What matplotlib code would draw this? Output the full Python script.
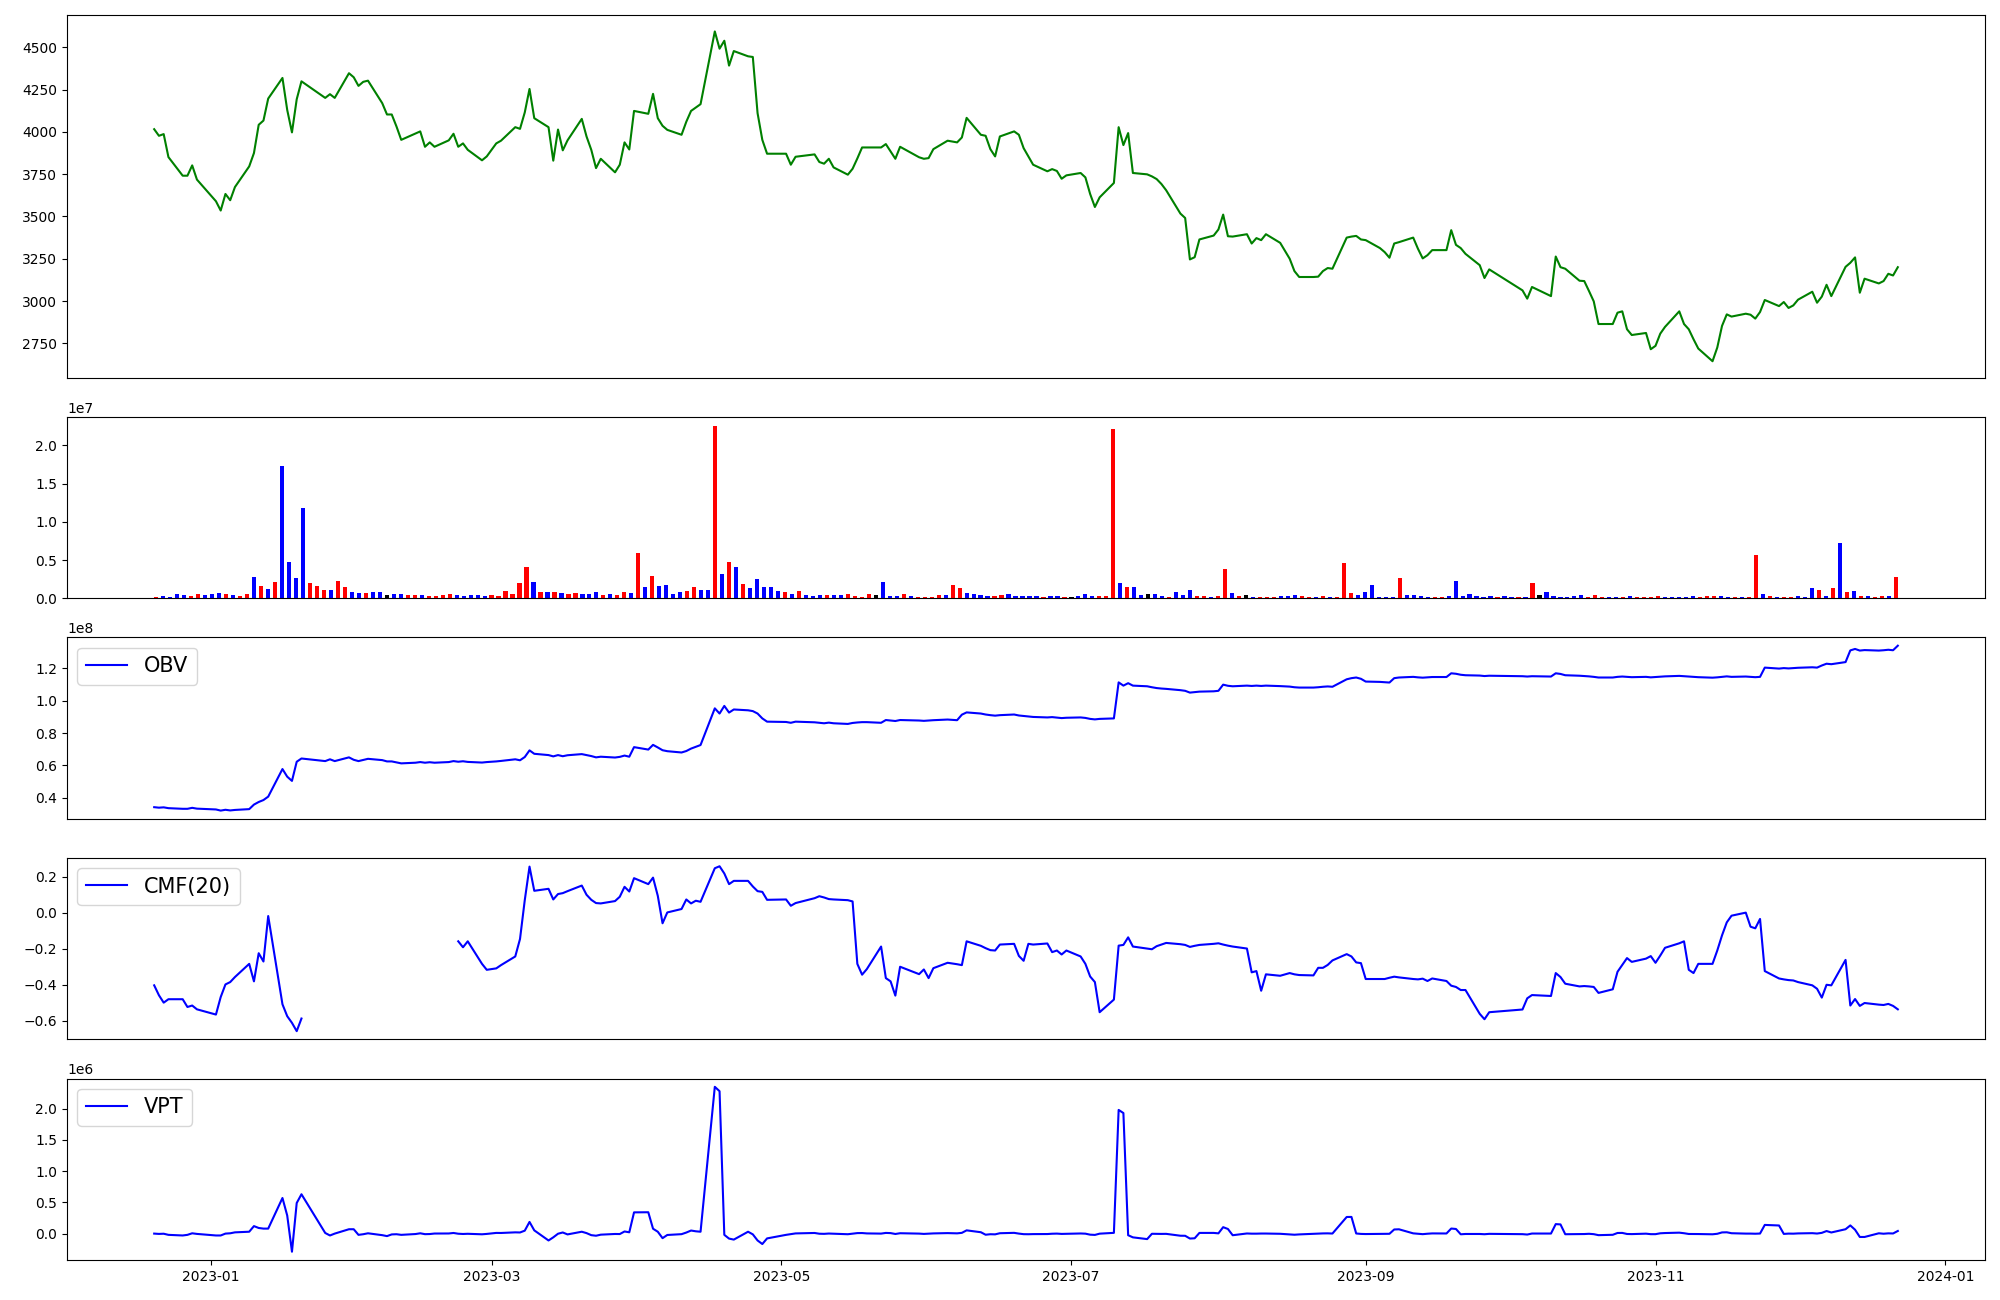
import numpy as np
import pandas as pd
import matplotlib
matplotlib.use('Agg')
import matplotlib.pyplot as plt

# KRX trading calendar, 2022-12-20 .. 2023-12-22
holidays = ['2022-12-30', '2023-01-23', '2023-01-24', '2023-03-01', '2023-05-01',
            '2023-05-05', '2023-05-29', '2023-06-06', '2023-08-15', '2023-09-28',
            '2023-09-29', '2023-10-02', '2023-10-03', '2023-10-09']
dates = pd.bdate_range('2022-12-20', '2023-12-22', freq='C', holidays=holidays)

close = [
    4016, 3977, 3987, 3851, 3741, 3741, 3802, 3718, 3590, 3535,
    3633, 3596, 3674, 3796, 3875, 4042, 4067, 4197, 4319, 4130,
    3997, 4193, 4299, 4201, 4223, 4201, 4347, 4323, 4272, 4296,
    4303, 4170, 4103, 4103, 4032, 3953, 3990, 4003, 3912, 3938,
    3912, 3950, 3989, 3912, 3932, 3894, 3832, 3855, 3932, 3948,
    4028, 4018, 4115, 4254, 4081, 4028, 3830, 4014, 3891, 3950,
    4077, 3973, 3894, 3786, 3841, 3761, 3806, 3938, 3896, 4124,
    4107, 4225, 4081, 4036, 4012, 3983, 4060, 4124, 4144, 4164,
    4594, 4492, 4539, 4392, 4478, 4447, 4443, 4111, 3953, 3871,
    3871, 3806, 3853, 3867, 3822, 3812, 3841, 3790, 3747, 3782,
    3843, 3908, 3908, 3908, 3928, 3885, 3841, 3912, 3850, 3841,
    3845, 3898, 3948, 3938, 3967, 4083, 3983, 3977, 3898, 3855,
    3973, 4003, 3983, 3904, 3855, 3806, 3767, 3780, 3769, 3723,
    3743, 3757, 3731, 3633, 3556, 3613, 3698, 4028, 3922, 3993,
    3757, 3749, 3737, 3721, 3692, 3655, 3517, 3491, 3246, 3259,
    3364, 3387, 3423, 3511, 3383, 3381, 3395, 3340, 3372, 3360,
    3395, 3344, 3250, 3177, 3142, 3142, 3144, 3177, 3195, 3191,
    3375, 3381, 3385, 3364, 3360, 3313, 3289, 3256, 3340, 3348,
    3375, 3309, 3252, 3271, 3301, 3301, 3419, 3332, 3313, 3279,
    3212, 3136, 3187, 3063, 3014, 3083, 3029, 3263, 3200, 3191,
    3120, 3118, 3059, 2998, 2864, 2864, 2931, 2939, 2833, 2799,
    2811, 2715, 2735, 2807, 2847, 2939, 2864, 2833, 2774, 2719,
    2644, 2725, 2853, 2921, 2908, 2925, 2919, 2896, 2935, 3006,
    2970, 2994, 2959, 2974, 3008, 3055, 2990, 3026, 3096, 3029,
    3202, 3226, 3258, 3049, 3132, 3104, 3118, 3161, 3151, 3200,
]

# volume in millions of shares
volume_m = [
    0.17, 0.30, 0.17, 0.56, 0.43, 0.30, 0.56, 0.43, 0.56, 0.70,
    0.56, 0.43, 0.30, 0.56, 2.78, 1.60, 1.22, 2.13, 17.26, 4.74,
    2.65, 11.78, 2.00, 1.60, 1.09, 1.09, 2.26, 1.48, 0.83, 0.70,
    0.70, 0.83, 0.83, 0.43, 0.56, 0.56, 0.43, 0.43, 0.43, 0.30,
    0.30, 0.43, 0.56, 0.43, 0.30, 0.43, 0.43, 0.30, 0.43, 0.30,
    0.96, 0.56, 2.00, 4.09, 2.13, 0.83, 0.83, 0.83, 0.70, 0.56,
    0.70, 0.56, 0.56, 0.83, 0.43, 0.56, 0.43, 0.83, 0.70, 5.91,
    1.48, 2.91, 1.60, 1.74, 0.56, 0.83, 0.96, 1.48, 1.09, 1.09,
    22.6, 3.17, 4.74, 4.09, 1.87, 1.35, 2.52, 1.48, 1.48, 0.96,
    0.83, 0.56, 0.96, 0.43, 0.30, 0.43, 0.43, 0.43, 0.43, 0.56,
    0.30, 0.17, 0.56, 0.43, 2.13, 0.30, 0.30, 0.56, 0.30, 0.17,
    0.17, 0.17, 0.43, 0.43, 1.74, 1.35, 0.70, 0.56, 0.43, 0.30,
    0.30, 0.43, 0.56, 0.30, 0.30, 0.30, 0.30, 0.17, 0.30, 0.30,
    0.17, 0.17, 0.30, 0.56, 0.30, 0.30, 0.30, 22.2, 2.00, 1.48,
    1.48, 0.43, 0.56, 0.56, 0.30, 0.17, 0.83, 0.43, 1.09, 0.30,
    0.30, 0.17, 0.30, 3.83, 0.70, 0.30, 0.43, 0.17, 0.17, 0.17,
    0.17, 0.30, 0.30, 0.43, 0.30, 0.17, 0.17, 0.30, 0.17, 0.17,
    4.61, 0.70, 0.43, 0.83, 1.74, 0.17, 0.17, 0.17, 2.65, 0.43,
    0.43, 0.30, 0.17, 0.17, 0.17, 0.30, 2.26, 0.30, 0.56, 0.30,
    0.17, 0.30, 0.17, 0.30, 0.17, 0.17, 0.17, 2.00, 0.43, 0.83,
    0.30, 0.17, 0.17, 0.30, 0.43, 0.17, 0.43, 0.17, 0.17, 0.17,
    0.17, 0.30, 0.17, 0.17, 0.17, 0.30, 0.17, 0.17, 0.17, 0.17,
    0.30, 0.17, 0.30, 0.30, 0.30, 0.17, 0.17, 0.17, 0.17, 5.65,
    0.56, 0.30, 0.17, 0.17, 0.17, 0.30, 0.17, 1.35, 1.09, 0.30,
    1.35, 7.22, 0.83, 0.96, 0.30, 0.30, 0.17, 0.30, 0.30, 2.78,
]

# candle direction per day: r = close above open, b = below, k = unchanged
candle = ("rbbbbrrbbb" "rbrrbrbrbb" "bbrrrbrrbb" "rbbkbbrrbr" "rrrbbbbbrr"
          "rrrrbrbrbr" "rbbbrbrrbr" "brbbbbrrbb" "rbrbrbbbbb" "rbrbbbrbbr"
          "rrrkbbbrbr" "rrrbrrbbbb" "rrbbbbbrbb" "rkbbbrrrbr" "bbkbbrbbbr"
          "rbrrbrkbrr" "rbbbrrbrbr" "rrbbbbbbrb" "bbbrrbbbbb" "bbrbbrbrkb"
          "bbbbbrrrbb" "rbrrrrbbbb" "brrrbbrbrr" "brbrrbbbrb" "rbrbrbrrbr")

# OBV in units of 1e8
obv_e8 = [
    0.343, 0.340, 0.342, 0.337, 0.333, 0.333, 0.339, 0.334, 0.329, 0.322,
    0.327, 0.323, 0.326, 0.331, 0.359, 0.375, 0.387, 0.408, 0.578, 0.531,
    0.505, 0.623, 0.643, 0.627, 0.638, 0.627, 0.650, 0.635, 0.627, 0.634,
    0.641, 0.633, 0.625, 0.625, 0.619, 0.613, 0.617, 0.621, 0.617, 0.620,
    0.617, 0.621, 0.627, 0.623, 0.626, 0.622, 0.618, 0.621, 0.625, 0.628,
    0.638, 0.632, 0.652, 0.693, 0.672, 0.664, 0.656, 0.664, 0.657, 0.663,
    0.670, 0.664, 0.658, 0.650, 0.654, 0.649, 0.653, 0.661, 0.654, 0.713,
    0.698, 0.727, 0.711, 0.694, 0.688, 0.680, 0.689, 0.704, 0.715, 0.726,
    0.952, 0.920, 0.967, 0.926, 0.945, 0.940, 0.935, 0.920, 0.890, 0.870,
    0.868, 0.863, 0.870, 0.866, 0.863, 0.860, 0.864, 0.860, 0.856, 0.862,
    0.865, 0.867, 0.867, 0.863, 0.880, 0.877, 0.874, 0.880, 0.877, 0.875,
    0.877, 0.879, 0.883, 0.879, 0.913, 0.927, 0.920, 0.914, 0.910, 0.907,
    0.910, 0.914, 0.908, 0.905, 0.902, 0.899, 0.896, 0.898, 0.895, 0.892,
    0.894, 0.896, 0.893, 0.887, 0.884, 0.887, 0.890, 1.112, 1.092, 1.107,
    1.092, 1.088, 1.082, 1.077, 1.074, 1.072, 1.064, 1.060, 1.049, 1.052,
    1.055, 1.057, 1.060, 1.098, 1.091, 1.088, 1.092, 1.090, 1.092, 1.090,
    1.092, 1.089, 1.086, 1.082, 1.080, 1.080, 1.082, 1.085, 1.087, 1.085,
    1.131, 1.138, 1.142, 1.134, 1.117, 1.115, 1.113, 1.111, 1.138, 1.142,
    1.146, 1.143, 1.141, 1.143, 1.145, 1.145, 1.168, 1.165, 1.159, 1.156,
    1.154, 1.151, 1.153, 1.150, 1.148, 1.150, 1.148, 1.168, 1.164, 1.156,
    1.153, 1.151, 1.149, 1.146, 1.142, 1.142, 1.146, 1.148, 1.146, 1.144,
    1.146, 1.143, 1.145, 1.147, 1.149, 1.152, 1.150, 1.148, 1.146, 1.144,
    1.141, 1.143, 1.146, 1.149, 1.146, 1.148, 1.146, 1.144, 1.146, 1.203,
    1.197, 1.200, 1.198, 1.200, 1.202, 1.205, 1.203, 1.216, 1.227, 1.224,
    1.237, 1.309, 1.318, 1.308, 1.311, 1.308, 1.310, 1.313, 1.310, 1.338,
]

nan = float('nan')
cmf = [
    -0.403, -0.458, -0.499, -0.480, -0.480, -0.523, -0.515, -0.536, -0.565, -0.468,
    -0.398, -0.385, -0.357, -0.284, -0.381, -0.225, -0.271, -0.019, -0.508, -0.574,
    -0.611, -0.657, -0.587, nan, nan, nan, nan, nan, nan, nan,
    nan, nan, nan, nan, nan, nan, nan, nan, nan, nan,
    nan, nan, nan, -0.159, -0.192, -0.159, -0.284, -0.317, -0.309, -0.291,
    -0.243, -0.146, 0.069, 0.255, 0.121, 0.132, 0.073, 0.103, 0.108, 0.119,
    0.150, 0.099, 0.071, 0.053, 0.051, 0.064, 0.088, 0.143, 0.117, 0.191,
    0.158, 0.194, 0.093, -0.059, 0.001, 0.020, 0.073, 0.051, 0.066, 0.060,
    0.246, 0.257, 0.217, 0.158, 0.176, 0.176, 0.145, 0.119, 0.115, 0.071,
    0.073, 0.038, 0.053, 0.080, 0.091, 0.084, 0.075, 0.073, 0.069, 0.062,
    -0.284, -0.344, -0.313, -0.188, -0.363, -0.381, -0.460, -0.300, -0.341, -0.315,
    -0.363, -0.308, -0.278, -0.286, -0.291, -0.159, -0.184, -0.197, -0.208, -0.210,
    -0.177, -0.173, -0.240, -0.267, -0.173, -0.177, -0.171, -0.219, -0.210, -0.232,
    -0.210, -0.243, -0.284, -0.354, -0.385, -0.552, -0.482, -0.183, -0.179, -0.137,
    -0.188, -0.199, -0.203, -0.186, -0.177, -0.168, -0.175, -0.179, -0.190, -0.184,
    -0.179, -0.173, -0.170, -0.177, -0.183, -0.188, -0.199, -0.331, -0.324, -0.433,
    -0.342, -0.350, -0.335, -0.342, -0.346, -0.348, -0.306, -0.306, -0.290, -0.265,
    -0.230, -0.243, -0.276, -0.280, -0.368, -0.368, -0.368, -0.361, -0.355, -0.359,
    -0.368, -0.370, -0.366, -0.379, -0.365, -0.379, -0.405, -0.412, -0.429, -0.429,
    -0.561, -0.591, -0.552, -0.537, -0.475, -0.457, -0.462, -0.335, -0.357, -0.394,
    -0.409, -0.407, -0.409, -0.412, -0.445, -0.425, -0.328, -0.290, -0.252, -0.273,
    -0.255, -0.241, -0.278, -0.238, -0.195, -0.170, -0.159, -0.317, -0.335, -0.284,
    -0.284, -0.210, -0.126, -0.054, -0.017, -0.000, -0.078, -0.087, -0.035, -0.324,
    -0.365, -0.370, -0.374, -0.376, -0.385, -0.403, -0.422, -0.471, -0.400, -0.403,
    -0.262, -0.515, -0.479, -0.517, -0.501, -0.510, -0.512, -0.506, -0.517, -0.536,
]

# VPT in units of 1e6
vpt_e6 = [
    0.000, -0.005, -0.002, -0.020, -0.030, -0.020, 0.005, -0.005, -0.030, -0.030,
    0.000, 0.005, 0.020, 0.030, 0.120, 0.090, 0.080, 0.080, 0.570, 0.290,
    -0.290, 0.490, 0.630, 0.010, -0.030, 0.000, 0.070, 0.070, -0.020, -0.010,
    0.005, -0.025, -0.040, -0.013, -0.010, -0.020, -0.007, 0.005, -0.009, -0.007,
    0.001, 0.002, 0.010, -0.002, -0.006, -0.003, -0.011, -0.005, 0.011, 0.010,
    0.020, 0.018, 0.047, 0.187, 0.052, -0.110, -0.060, -0.002, 0.018, -0.013,
    0.030, 0.008, -0.025, -0.034, -0.017, -0.006, -0.007, 0.034, 0.021, 0.340,
    0.342, 0.078, 0.030, -0.073, -0.022, -0.009, 0.017, 0.049, 0.037, 0.030,
    2.350, 2.280, -0.020, -0.080, -0.096, 0.030, -0.012, -0.110, -0.167, -0.077,
    -0.020, -0.009, 0.003, 0.010, -0.002, -0.004, 0.001, -0.002, -0.010, -0.001,
    0.008, 0.009, 0.003, 0.000, 0.011, 0.008, -0.006, 0.006, 0.000, -0.005,
    -0.001, 0.003, 0.008, 0.004, 0.012, 0.052, 0.022, -0.018, -0.010, -0.012,
    0.006, 0.012, 0.000, -0.009, -0.010, -0.008, -0.007, -0.002, 0.000, -0.005,
    -0.003, 0.002, -0.001, -0.017, -0.021, -0.001, 0.012, 1.980, 1.930, -0.026,
    -0.060, -0.088, -0.003, -0.004, -0.005, -0.004, -0.034, -0.035, -0.079, -0.075,
    0.011, 0.011, 0.004, 0.103, 0.074, -0.026, 0.002, -0.001, -0.001, 0.001,
    0.001, -0.003, -0.013, -0.018, -0.013, -0.003, 0.000, 0.003, 0.004, 0.001,
    0.266, 0.267, 0.002, -0.005, -0.007, -0.004, -0.003, -0.003, 0.066, 0.069,
    0.004, -0.003, -0.009, -0.002, 0.003, 0.002, 0.081, 0.074, -0.011, -0.006,
    -0.006, -0.010, -0.004, -0.009, -0.015, 0.001, 0.001, 0.152, 0.147, -0.010,
    -0.009, -0.007, -0.003, -0.009, -0.025, -0.019, 0.010, 0.011, -0.006, -0.008,
    -0.001, -0.009, -0.009, 0.005, 0.009, 0.015, 0.006, -0.006, -0.006, -0.007,
    -0.011, -0.003, 0.019, 0.021, 0.006, 0.000, 0.000, -0.002, 0.001, 0.139,
    0.130, -0.005, 0.000, -0.001, 0.003, 0.007, 0.001, 0.012, 0.041, 0.018,
    0.070, 0.131, 0.062, -0.054, -0.054, 0.005, -0.002, 0.004, 0.002, 0.042,
]

bar_colors = {'r': 'red', 'b': 'blue', 'k': 'black'}

fig = plt.figure(figsize=(20, 13), dpi=100)
gs = fig.add_gridspec(5, 1, height_ratios=[2, 1, 1, 1, 1], hspace=0.18,
                      left=0.0335, right=0.9925, top=0.9885, bottom=0.0308)
ax_price = fig.add_subplot(gs[0])
ax_vol = fig.add_subplot(gs[1])
ax_obv = fig.add_subplot(gs[2], sharex=ax_price)
ax_cmf = fig.add_subplot(gs[3], sharex=ax_price)
ax_vpt = fig.add_subplot(gs[4], sharex=ax_price)

ax_price.plot(dates, close, color='green')

idx = np.arange(len(volume_m))
ax_vol.bar(idx, np.array(volume_m) * 1e6, width=0.6,
           color=[bar_colors[c] for c in candle])

ax_obv.plot(dates, np.array(obv_e8) * 1e8, color='blue', label='OBV')
ax_cmf.plot(dates, cmf, color='blue', label='CMF(20)')
ax_vpt.plot(dates, np.array(vpt_e6) * 1e6, color='blue', label='VPT')

for ax in (ax_obv, ax_cmf, ax_vpt):
    ax.legend(loc='upper left', fontsize=15)

for ax in (ax_price, ax_vol, ax_obv, ax_cmf):
    ax.tick_params(axis='x', bottom=False, labelbottom=False)

fig.savefig('out.png', dpi=100)
